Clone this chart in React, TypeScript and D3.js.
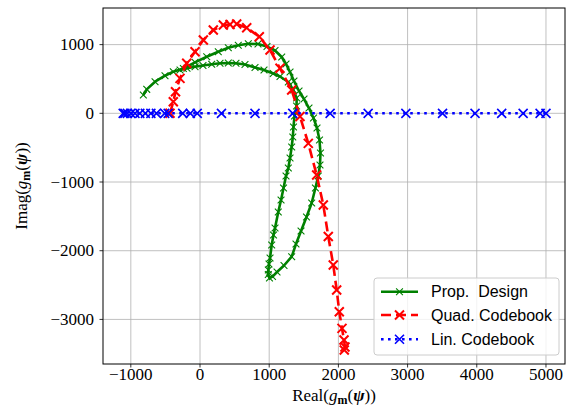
import React from "react";
import * as d3 from "d3";

const X_TICKS = [-1000, 0, 1000, 2000, 3000, 4000, 5000];
const Y_TICKS = [-3000, -2000, -1000, 0, 1000];

// [Real, Imag]
const PROP_DESIGN: [number, number][] = [
  [-819, 266], [-770, 349], [-650, 460], [-506, 547], [-386, 606], [-241, 652],
  [-72, 742], [97, 824], [264, 897], [409, 955], [553, 990], [698, 1013],
  [838, 1009], [968, 972], [1084, 914], [1181, 820], [1243, 718], [1301, 601],
  [1358, 470], [1431, 325], [1503, 208], [1575, 77], [1640, -68], [1691, -214],
  [1727, -389], [1741, -578], [1734, -753], [1709, -913], [1668, -1087], [1614, -1306],
  [1539, -1509], [1460, -1713], [1387, -1903], [1325, -2087], [1214, -2215], [1113, -2310],
  [1048, -2376], [1004, -2397], [987, -2346], [987, -2281], [997, -2194], [1012, -2106],
  [1036, -1917], [1062, -1771], [1084, -1670], [1131, -1437], [1171, -1262], [1207, -1087],
  [1243, -913], [1276, -796], [1301, -651], [1325, -491], [1341, -345], [1351, -199],
  [1366, -39], [1395, 106], [1397, 223], [1348, 339], [1276, 456], [1156, 536],
  [1059, 579], [925, 630], [795, 667], [650, 710], [520, 728], [409, 732],
  [289, 728], [169, 713], [43, 696], [-72, 678], [-188, 656], [-289, 630],
];

const QUAD_CODEBOOK: [number, number][] = [
  [-434, 0], [-386, 169], [-354, 314], [-289, 509], [-192, 728], [-72, 897],
  [48, 1067], [192, 1213], [337, 1285], [434, 1293], [530, 1300], [675, 1245],
  [857, 1115], [1012, 921], [1156, 655], [1325, 339], [1445, -47], [1565, -437],
  [1686, -898], [1782, -1335], [1854, -1793], [1926, -2208], [1975, -2572], [2013, -2888],
  [2052, -3130], [2081, -3300], [2095, -3402], [2085, -3445],
];

const LIN_CODEBOOK: [number, number][] = [
  [-1110, 0], [-1085, 0], [-1050, 0], [-1000, 0], [-940, 0], [-870, 0], [-790, 0],
  [-710, 0], [-630, 0], [-510, 0], [-460, 0], [-250, 0], [-140, 0], [-40, 0],
  [310, 0], [795, 0], [1340, 0], [1880, 0], [2430, 0], [2975, 0], [3505, 0],
  [3975, 0], [4360, 0], [4670, 0], [4915, 0], [5000, 0],
];

const SERIES = [
  { name: "Prop.  Design", data: PROP_DESIGN, color: "#008000", dash: "none", ms: 3.4, mw: 1.1 },
  { name: "Quad. Codebook", data: QUAD_CODEBOOK, color: "#ff0000", dash: "10,5", ms: 4.5, mw: 2 },
  { name: "Lin. Codebook", data: LIN_CODEBOOK, color: "#0000ff", dash: "2.6,4.4", ms: 4.5, mw: 1.6 },
];

const W = 568, H = 413;
const L = 103, R = 565, T = 8, B = 364;

const fmt = (v: number) => (v < 0 ? "\u2212" + Math.abs(v) : String(v));

export default function App() {
  const x = d3.scaleLinear().domain([-1402, 5275]).range([L, R]);
  const y = d3.scaleLinear().domain([-3649, 1533]).range([B, T]);
  const line = d3.line<[number, number]>().x((d) => x(d[0])).y((d) => y(d[1]));
  const serif = "'Liberation Serif', 'DejaVu Serif', serif";
  const sans = "'Liberation Sans', 'DejaVu Sans', sans-serif";
  const xmark = (s: number) => `M${-s},${-s}L${s},${s}M${-s},${s}L${s},${-s}`;

  const legX = 374, legY = 278, legW = 185, legH = 77;
  const rows = [291.7, 315, 339.3];

  return (
    <svg width={W} height={H} style={{ position: "absolute", left: 0, top: 0, background: "#fff" }}>
      <rect x={0} y={0} width={W} height={H} fill="#fff" />
      <defs>
        <clipPath id="plotclip">
          <rect x={L} y={T} width={R - L} height={B - T} />
        </clipPath>
      </defs>
      {/* grid */}
      <g stroke="#b0b0b0" strokeWidth={0.8}>
        {X_TICKS.map((t) => (
          <line key={"gx" + t} x1={x(t)} x2={x(t)} y1={T} y2={B} />
        ))}
        {Y_TICKS.map((t) => (
          <line key={"gy" + t} x1={L} x2={R} y1={y(t)} y2={y(t)} />
        ))}
      </g>
      {/* series */}
      <g clipPath="url(#plotclip)">
        {SERIES.map((s) => (
          <g key={s.name}>
            <path d={line(s.data) || ""} fill="none" stroke={s.color} strokeWidth={2.6}
              strokeDasharray={s.dash} strokeLinejoin="round" />
            {s.data.map((d, i) => (
              <path key={i} d={xmark(s.ms)} transform={`translate(${x(d[0])},${y(d[1])})`}
                stroke={s.color} strokeWidth={s.mw} fill="none" />
            ))}
          </g>
        ))}
      </g>
      {/* frame */}
      <rect x={L} y={T} width={R - L} height={B - T} fill="none" stroke="#000" strokeWidth={1} />
      {/* ticks */}
      <g stroke="#000" strokeWidth={0.8}>
        {X_TICKS.map((t) => (
          <line key={"tx" + t} x1={x(t)} x2={x(t)} y1={B} y2={B + 3.5} />
        ))}
        {Y_TICKS.map((t) => (
          <line key={"ty" + t} x1={L - 3.5} x2={L} y1={y(t)} y2={y(t)} />
        ))}
      </g>
      <g fontFamily={serif} fontSize={17} fill="#000">
        {X_TICKS.map((t) => (
          <text key={"lx" + t} x={x(t)} y={380} textAnchor="middle">{fmt(t)}</text>
        ))}
        {Y_TICKS.map((t) => (
          <text key={"ly" + t} x={94} y={y(t) + 5.5} textAnchor="end">{fmt(t)}</text>
        ))}
        <text x={(L + R) / 2} y={401} textAnchor="middle">
          <tspan>Real(</tspan>
          <tspan fontStyle="italic">g</tspan>
          <tspan fontWeight="bold" fontSize={12} dy={3}>m</tspan>
          <tspan dy={-3}>(</tspan>
          <tspan fontStyle="italic" fontWeight="bold">ψ</tspan>
          <tspan>))</tspan>
        </text>
        <text transform={`translate(27,${(T + B) / 2}) rotate(-90)`} textAnchor="middle">
          <tspan>Imag(</tspan>
          <tspan fontStyle="italic">g</tspan>
          <tspan fontWeight="bold" fontSize={12} dy={3}>m</tspan>
          <tspan dy={-3}>(</tspan>
          <tspan fontStyle="italic" fontWeight="bold">ψ</tspan>
          <tspan>))</tspan>
        </text>
      </g>
      {/* legend */}
      <g>
        <rect x={legX} y={legY} width={legW} height={legH} rx={3} fill="#fff" fillOpacity={0.8}
          stroke="#cccccc" strokeWidth={1} />
        {SERIES.map((s, i) => (
          <g key={"leg" + s.name}>
            <line x1={381} x2={418} y1={rows[i]} y2={rows[i]} stroke={s.color} strokeWidth={2.6}
              strokeDasharray={s.dash} />
            <path d={xmark(s.ms)} transform={`translate(399.5,${rows[i]})`} stroke={s.color}
              strokeWidth={s.mw} fill="none" />
            <text x={431} y={rows[i] + 5.5} fontFamily={sans} fontSize={16} fill="#000"
              style={{ whiteSpace: "pre" }}>{s.name}</text>
          </g>
        ))}
      </g>
    </svg>
  );
}
